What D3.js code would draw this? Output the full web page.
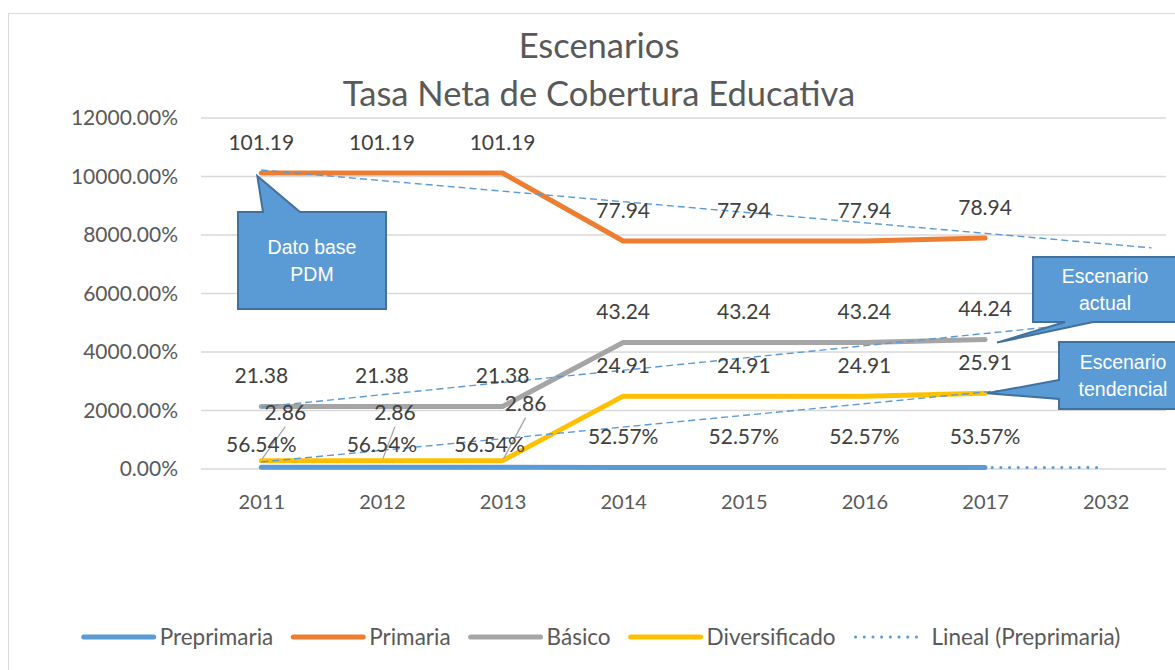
<!DOCTYPE html>
<html>
<head>
<meta charset="utf-8">
<script src="https://cdn.jsdelivr.net/npm/d3@7"></script>
<style>
  body { margin: 0; background: #fff; }
  svg { display: block; }
</style>
</head>
<body>
<script>
// data
var categories = ["2011", "2012", "2013", "2014", "2015", "2016", "2017", "2032"];
var seriesNames = ["Preprimaria", "Primaria", "Básico", "Diversificado"];
var preprimaria = [0.5654, 0.5654, 0.5654, 0.5257, 0.5257, 0.5257, 0.5357];
var primaria = [101.19, 101.19, 101.19, 77.94, 77.94, 77.94, 78.94];
var basico = [21.38, 21.38, 21.38, 43.24, 43.24, 43.24, 44.24];
var diversificado = [2.86, 2.86, 2.86, 24.91, 24.91, 24.91, 25.91];
var yTicks = [0, 20, 40, 60, 80, 100, 120];

// linear trend lines (start value, end value, end position in categories)
var trendStart = [0.57, 102.2, 21.2, 2.4];
var trendEnd = [0.52, 75.6, 52.1, 31.8];
var trendEndIndex = [6.95, 7.38, 7.38, 7.38];

var colors = ["#5B9BD5", "#ED7D31", "#A5A5A5", "#FFC000"];
var values = [preprimaria, primaria, basico, diversificado];

// size
var W = 1175, H = 670;
var plot = {left: 201, right: 1166, top: 118, bottom: 469};

var svg = d3.select("body")
            .append("svg")
            .attr("width", W)
            .attr("height", H);

// chart border
svg.append("rect")
   .attr("x", 8.5).attr("y", 13.5)
   .attr("width", 1182).attr("height", 700)
   .attr("fill", "#fff")
   .attr("stroke", "#D9D9D9");

var xScale = d3.scalePoint()
               .domain(categories)
               .range([plot.left, plot.right])
               .padding(0.5);

var xi = function(i) { return xScale(categories[0]) + i * xScale.step(); };

var yScale = d3.scaleLinear()
               .domain([0, 120])
               .range([plot.bottom, plot.top]);

// title
var title = svg.append("g")
               .attr("font-family", "Lato, sans-serif")
               .attr("fill", "#595959")
               .attr("text-anchor", "middle");
title.append("text").attr("x", 599).attr("y", 58).attr("font-size", 34.5).text("Escenarios");
title.append("text").attr("x", 599).attr("y", 106).attr("font-size", 34.5).text("Tasa Neta de Cobertura Educativa");

// gridlines
svg.append("g")
   .selectAll("line")
   .data(yTicks)
   .enter()
   .append("line")
   .attr("x1", plot.left).attr("x2", plot.right)
   .attr("y1", function(d) { return yScale(d); })
   .attr("y2", function(d) { return yScale(d); })
   .attr("stroke", "#D9D9D9")
   .attr("stroke-width", 1.3);

// y axis
var yAxis = svg.append("g")
   .attr("transform", "translate(" + plot.left + ",0)")
   .call(d3.axisLeft(yScale).tickValues(yTicks).tickFormat(d3.format(".2%")).tickSize(0).tickPadding(23));
yAxis.select(".domain").remove();
yAxis.selectAll("text")
     .attr("font-family", "Lato, sans-serif")
     .attr("font-size", 21)
     .attr("fill", "#595959");

// x axis
var xAxis = svg.append("g")
   .attr("transform", "translate(0," + plot.bottom + ")")
   .call(d3.axisBottom(xScale).tickSize(0).tickPadding(26));
xAxis.select(".domain").remove();
xAxis.selectAll("text")
     .attr("font-family", "Lato, sans-serif")
     .attr("font-size", 20)
     .attr("fill", "#595959");

// series lines
var line = d3.line()
             .x(function(d, i) { return xScale(categories[i]); })
             .y(function(d) { return yScale(d); });

svg.append("g")
   .selectAll("path")
   .data(values)
   .enter()
   .append("path")
   .attr("d", line)
   .attr("fill", "none")
   .attr("stroke", function(d, i) { return colors[i]; })
   .attr("stroke-width", 5)
   .attr("stroke-linecap", "round")
   .attr("stroke-linejoin", "round");

// trend lines
svg.append("g")
   .selectAll("line")
   .data(trendStart)
   .enter()
   .append("line")
   .attr("x1", xi(0))
   .attr("y1", function(d) { return yScale(d); })
   .attr("x2", function(d, i) { return xi(trendEndIndex[i]); })
   .attr("y2", function(d, i) { return yScale(trendEnd[i]); })
   .attr("stroke", "#5B9BD5")
   .attr("stroke-width", function(d, i) { return i == 0 ? 3 : 1.4; })
   .attr("stroke-dasharray", function(d, i) { return i == 0 ? "0.1,8.6" : "7,4"; })
   .attr("stroke-linecap", function(d, i) { return i == 0 ? "round" : "butt"; });

// data labels (a few are moved by hand, like in the workbook)
var labelNudge = {
  "0-0": [0, 8], "0-1": [0, 8], "0-2": [-13, 8],
  "3-0": [24, -17], "3-1": [13, -17], "3-2": [23, -26]
};
var pctFmt = d3.format(".2%"), numFmt = d3.format(".2f");

var labels = [];
values.forEach(function(arr, s) {
    arr.forEach(function(v, i) {
        var n = labelNudge[s + "-" + i] || [0, 0];
        labels.push({s: s, i: i, v: v, dx: n[0], dy: n[1]});
    });
});

// leader lines for moved labels
svg.append("g")
   .selectAll("line")
   .data(labels.filter(function(d) { return d.s == 3 && d.dy < 0; }))
   .enter()
   .append("line")
   .attr("x1", function(d) { return xScale(categories[d.i]) + 1; })
   .attr("y1", function(d) { return yScale(d.v) - 2; })
   .attr("x2", function(d) { return xScale(categories[d.i]) + d.dx; })
   .attr("y2", function(d) { return yScale(d.v) - 31 + d.dy + 14; })
   .attr("stroke", "#A6A6A6")
   .attr("stroke-width", 1.3);

svg.append("g")
   .selectAll("text")
   .data(labels)
   .enter()
   .append("text")
   .attr("x", function(d) { return xScale(categories[d.i]) + d.dx; })
   .attr("y", function(d) { return yScale(d.v) - 31 + d.dy; })
   .attr("dy", "0.36em")
   .attr("text-anchor", "middle")
   .attr("font-family", "Lato, sans-serif")
   .attr("font-size", 21)
   .attr("fill", "#404040")
   .text(function(d) { return d.s == 0 ? pctFmt(d.v) : numFmt(d.v); });

// callouts
var callouts = [
  {lines: ["Dato base", "PDM"], x0: 238, y0: 212, x1: 386, y1: 309, side: "top",
   p: [263, 300], tip: [xScale("2011") - 4, yScale(primaria[0]) + 3]},
  {lines: ["Escenario", "actual"], x0: 1033, y0: 257, x1: 1177, y1: 322, side: "bottom",
   p: [1093, 1065], tip: [xScale("2017") + 12, yScale(basico[6]) + 3]},
  {lines: ["Escenario", "tendencial"], x0: 1059, y0: 342, x1: 1187, y1: 409, side: "left",
   p: [380, 399], tip: [xScale("2017") + 2, yScale(diversificado[6])]}
];

function calloutPath(c) {
    var pts;
    if (c.side == "top") {
        pts = [[c.x0, c.y0], [c.p[0], c.y0], c.tip, [c.p[1], c.y0], [c.x1, c.y0], [c.x1, c.y1], [c.x0, c.y1]];
    } else if (c.side == "bottom") {
        pts = [[c.x0, c.y0], [c.x1, c.y0], [c.x1, c.y1], [c.p[0], c.y1], c.tip, [c.p[1], c.y1], [c.x0, c.y1]];
    } else {
        pts = [[c.x0, c.y0], [c.x1, c.y0], [c.x1, c.y1], [c.x0, c.y1], [c.x0, c.p[1]], c.tip, [c.x0, c.p[0]]];
    }
    return "M" + pts.map(function(p) { return p.join(","); }).join("L") + "Z";
}

var cg = svg.append("g")
            .selectAll("g")
            .data(callouts)
            .enter()
            .append("g");

cg.append("path")
  .attr("d", calloutPath)
  .attr("fill", "#5B9BD5")
  .attr("stroke", "#41719C")
  .attr("stroke-width", 2)
  .attr("stroke-linejoin", "miter");

cg.each(function(c) {
    var cx = (c.x0 + c.x1) / 2, cy = (c.y0 + c.y1) / 2;
    var t = d3.select(this).append("text")
              .attr("text-anchor", "middle")
              .attr("font-family", "'Liberation Sans', Arial, sans-serif")
              .attr("font-size", 19.5)
              .attr("fill", "#fff");
    c.lines.forEach(function(l, k) {
        t.append("tspan")
         .attr("x", cx)
         .attr("y", cy + (k - (c.lines.length - 1) / 2) * 27)
         .attr("dy", "0.36em")
         .text(l);
    });
});

// legend
var legendItems = seriesNames.concat(["Lineal (Preprimaria)"]);
var legend = svg.append("g")
                .attr("font-family", "Lato, sans-serif")
                .attr("font-size", 22.5)
                .attr("fill", "#595959");
var items = legend.selectAll("g")
                  .data(legendItems)
                  .enter()
                  .append("g");
items.append("line")
     .attr("x1", 0).attr("x2", function(d, i) { return i == 4 ? 65 : 70; })
     .attr("y1", 0).attr("y2", 0)
     .attr("stroke", function(d, i) { return i == 4 ? "#5B9BD5" : colors[i]; })
     .attr("stroke-width", function(d, i) { return i == 4 ? 3 : 5; })
     .attr("stroke-dasharray", function(d, i) { return i == 4 ? "0.1,8.6" : null; })
     .attr("stroke-linecap", "round");
items.append("text")
     .attr("x", function(d, i) { return i == 4 ? 76 : 76; })
     .attr("dy", "0.35em")
     .text(function(d) { return d; });

var lx = 0, widths = [];
items.each(function() { widths.push(this.getBBox().width); });
var total = d3.sum(widths) + 20 * (widths.length - 1);
lx = 602 - total / 2;
items.attr("transform", function(d, i) {
    var t = "translate(" + lx + ",637)";
    lx += widths[i] + 20;
    return t;
});
</script>
</body>
</html>
